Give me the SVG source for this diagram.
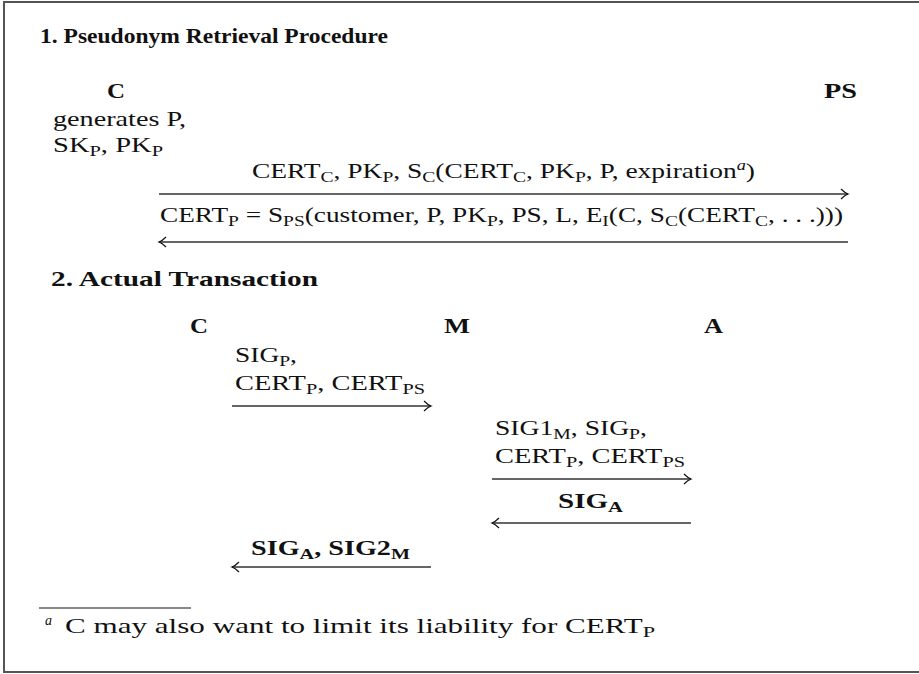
<svg xmlns="http://www.w3.org/2000/svg" width="919" height="674" viewBox="0 0 919 674">
<style>
text{font-family:"Liberation Serif","DejaVu Serif",serif;font-size:21px;fill:#111}
.b{font-weight:bold}
.s{font-size:15px}
.sup{font-size:14px;font-style:italic}
.arr{stroke:#333;stroke-width:1.3;fill:none;marker-end:url(#ah)}
.frame{stroke:#555;stroke-width:2;fill:none}
</style>
<defs>
<marker id="ah" markerUnits="userSpaceOnUse" markerWidth="14" markerHeight="14" viewBox="-10 -7 14 14" refX="0" refY="0" orient="auto">
<path d="M-7,-5 Q-3,-1 0,0 Q-3,1 -7,5" stroke="#111" stroke-width="1.2" fill="none"/>
</marker>
</defs>
<rect width="919" height="674" fill="#fff"/>
<path class="frame" d="M920,2 H4 V672 H920"/>

<g id="section1">
<text class="b" x="40" y="43" textLength="348" lengthAdjust="spacingAndGlyphs">1. Pseudonym Retrieval Procedure</text>
</g>
<g id="C1">
<text class="b" x="107" y="98" textLength="18" lengthAdjust="spacingAndGlyphs">C</text>
<text x="53" y="126" textLength="133" lengthAdjust="spacingAndGlyphs">generates  P,</text>
<text x="53" y="152" textLength="110" lengthAdjust="spacingAndGlyphs">SK<tspan class="s" dy="4">P</tspan><tspan dy="-4">, PK</tspan><tspan class="s" dy="4">P</tspan></text>
</g>
<g id="PS">
<text class="b" x="824" y="98" textLength="33" lengthAdjust="spacingAndGlyphs">PS</text>
</g>
<g id="section2">
<text class="b" x="51" y="286" textLength="267" lengthAdjust="spacingAndGlyphs">2. Actual Transaction</text>
</g>
<g id="C2"><text class="b" x="190" y="333" textLength="18" lengthAdjust="spacingAndGlyphs">C</text></g>
<g id="M"><text class="b" x="444" y="333" textLength="26" lengthAdjust="spacingAndGlyphs">M</text></g>
<g id="A"><text class="b" x="704" y="333" textLength="19" lengthAdjust="spacingAndGlyphs">A</text></g>

<g id="connectors">
<line class="arr" x1="159" y1="194" x2="848" y2="194"/>
<line class="arr" x1="848" y1="242" x2="159" y2="242"/>
<line class="arr" x1="232" y1="406" x2="431" y2="406"/>
<line class="arr" x1="492" y1="479" x2="691" y2="479"/>
<line class="arr" x1="691" y1="523" x2="492" y2="523"/>
<line class="arr" x1="431" y1="567" x2="232" y2="567"/>
</g>

<g id="labels">
<text x="252" y="178" textLength="503" lengthAdjust="spacingAndGlyphs">CERT<tspan class="s" dy="4">C</tspan><tspan dy="-4">, PK</tspan><tspan class="s" dy="4">P</tspan><tspan dy="-4">, S</tspan><tspan class="s" dy="4">C</tspan><tspan dy="-4">(CERT</tspan><tspan class="s" dy="4">C</tspan><tspan dy="-4">, PK</tspan><tspan class="s" dy="4">P</tspan><tspan dy="-4">, P, expiration</tspan><tspan class="sup" dy="-8">a</tspan><tspan dy="8">)</tspan></text>
<text x="160" y="222" textLength="683" lengthAdjust="spacingAndGlyphs">CERT<tspan class="s" dy="4">P</tspan><tspan dy="-4"> = S</tspan><tspan class="s" dy="4">PS</tspan><tspan dy="-4">(customer, P, PK</tspan><tspan class="s" dy="4">P</tspan><tspan dy="-4">, PS, L, E</tspan><tspan class="s" dy="4">I</tspan><tspan dy="-4">(C, S</tspan><tspan class="s" dy="4">C</tspan><tspan dy="-4">(CERT</tspan><tspan class="s" dy="4">C</tspan><tspan dy="-4">, . . .)))</tspan></text>
<text x="235" y="362" textLength="62" lengthAdjust="spacingAndGlyphs">SIG<tspan class="s" dy="4">P</tspan><tspan dy="-4">,</tspan></text>
<text x="235" y="390" textLength="190" lengthAdjust="spacingAndGlyphs">CERT<tspan class="s" dy="4">P</tspan><tspan dy="-4">, CERT</tspan><tspan class="s" dy="4">PS</tspan></text>
<text x="495" y="435" textLength="152" lengthAdjust="spacingAndGlyphs">SIG1<tspan class="s" dy="4">M</tspan><tspan dy="-4">, SIG</tspan><tspan class="s" dy="4">P</tspan><tspan dy="-4">,</tspan></text>
<text x="495" y="463" textLength="190" lengthAdjust="spacingAndGlyphs">CERT<tspan class="s" dy="4">P</tspan><tspan dy="-4">, CERT</tspan><tspan class="s" dy="4">PS</tspan></text>
<text class="b" x="558" y="508" textLength="65" lengthAdjust="spacingAndGlyphs">SIG<tspan class="s" dy="4">A</tspan></text>
<text class="b" x="251" y="555" textLength="159" lengthAdjust="spacingAndGlyphs">SIG<tspan class="s" dy="4">A</tspan><tspan dy="-4">, SIG2</tspan><tspan class="s" dy="4">M</tspan></text>
</g>

<g id="footnote">
<line x1="39" y1="608" x2="191" y2="608" stroke="#111" stroke-width="1.2"/>
<text class="sup" x="45" y="625">a</text>
<text x="65" y="633" textLength="590" lengthAdjust="spacingAndGlyphs">C may also want to limit its liability for CERT<tspan class="s" dy="4">P</tspan></text>
</g>
</svg>
